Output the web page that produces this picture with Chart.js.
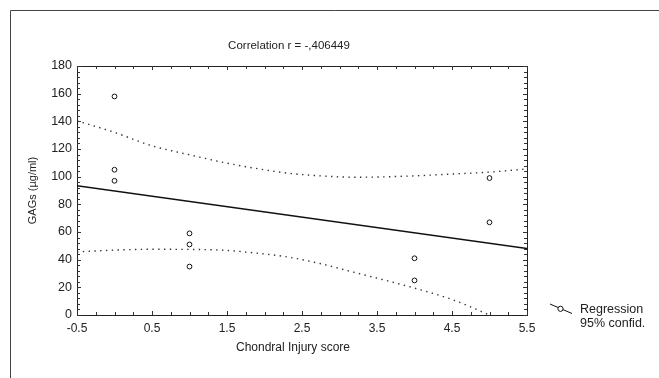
<!DOCTYPE html>
<html><head><meta charset="utf-8">
<script src="https://cdn.jsdelivr.net/npm/chart.js@4.4.0/dist/chart.umd.min.js"></script>
<style>html,body{margin:0;padding:0;background:#fff}</style>
</head><body>
<canvas id="c" width="659" height="378"></canvas>
<script>
// ---- data ----
const titleText = 'Correlation r = -,406449';
const xTitle = 'Chondral Injury score';
const yTitle = 'GAGs (µg/ml)';
const legendLabels = ['Regression', '95% confid.'];

const xTicks = [-0.5, 0.5, 1.5, 2.5, 3.5, 4.5, 5.5];
const yTicks = [0, 20, 40, 60, 80, 100, 120, 140, 160, 180];

const obsX = [0, 0, 0, 1, 1, 1, 4, 4, 5, 5];
const obsY = [158, 105, 97, 59, 51, 35, 41, 25, 99, 67];

const regX = [-0.5, 5.5];
const regY = [93.4, 48];

const upperX = [-0.5, 0, 0.5, 1.0, 1.46, 1.86, 2.3, 2.74, 3.19, 3.54, 4.0, 4.5, 5.0, 5.5];
const upperY = [140.4, 132, 122.3, 115.8, 110.2, 106.2, 102.6, 100.6, 99.6, 99.8, 100.6, 101.9, 103.3, 105.6];

const lowerX = [-0.5, 0, 0.5, 1.0, 1.46, 1.86, 2.3, 2.74, 3.19, 3.54, 3.99, 4.5, 5.0];
const lowerY = [45.6, 46.9, 47.5, 47.4, 46.8, 44.9, 42, 37.2, 30.9, 26.1, 19.6, 11.2, 0];

const zip = (xs, ys) => xs.map((x, i) => ({ x: x, y: ys[i] }));

const FONT = '"Liberation Sans", Arial, sans-serif';
const INK = '#222';

const decor = {
  id: 'decor',
  beforeDatasetsDraw(chart) {
    const { ctx, chartArea: a, scales } = chart;
    const xs = scales.x, ys = scales.y;
    ctx.save();
    // outer frame (top + left)
    ctx.strokeStyle = '#444';
    ctx.lineWidth = 1;
    ctx.beginPath();
    ctx.moveTo(10.5, 378);
    ctx.lineTo(10.5, 10.5);
    ctx.lineTo(659, 10.5);
    ctx.stroke();
    // top and right plot borders
    ctx.strokeStyle = '#222';
    ctx.beginPath();
    ctx.moveTo(a.left, a.top + 0.5);
    ctx.lineTo(a.right + 0.5, a.top + 0.5);
    ctx.lineTo(a.right + 0.5, a.bottom);
    ctx.stroke();
    // inner ticks
    ctx.strokeStyle = '#333';
    ctx.beginPath();
    for (let v = xs.min; v <= xs.max + 1e-9; v += 0.25) {
      const px = Math.round(xs.getPixelForValue(v)) + 0.5;
      const major = xTicks.some(t => Math.abs(t - v) < 1e-6);
      const L = major ? 4 : 3;
      ctx.moveTo(px, a.bottom); ctx.lineTo(px, a.bottom - L);
      ctx.moveTo(px, a.top); ctx.lineTo(px, a.top + L);
    }
    for (let v = ys.min; v <= ys.max + 1e-9; v += 4) {
      const py = Math.round(ys.getPixelForValue(v)) + 0.5;
      const major = yTicks.some(t => Math.abs(t - v) < 1e-6);
      const L = major ? 4 : 3;
      ctx.moveTo(a.left, py); ctx.lineTo(a.left + L, py);
      ctx.moveTo(a.right, py); ctx.lineTo(a.right - L, py);
    }
    ctx.stroke();
    ctx.restore();
  },
  afterDraw(chart) {
    const { ctx, chartArea: a } = chart;
    ctx.save();
    ctx.fillStyle = INK;
    ctx.textBaseline = 'middle';
    // title
    ctx.font = '11.5px ' + FONT;
    ctx.textAlign = 'center';
    ctx.fillText(titleText, 289, 46);
    // x title
    ctx.font = '12px ' + FONT;
    ctx.fillText(xTitle, 293, 348);
    // y title
    ctx.save();
    ctx.translate(33, (a.top + a.bottom) / 2);
    ctx.rotate(-Math.PI / 2);
    ctx.font = '11px ' + FONT;
    ctx.fillText(yTitle, 0, 0);
    ctx.restore();
    // legend
    ctx.strokeStyle = '#111';
    ctx.lineWidth = 1;
    ctx.beginPath();
    ctx.moveTo(550, 304);
    ctx.lineTo(572, 313.5);
    ctx.stroke();
    ctx.beginPath();
    ctx.arc(560.5, 308.8, 2.6, 0, Math.PI * 2);
    ctx.fillStyle = '#fff';
    ctx.fill();
    ctx.stroke();
    ctx.fillStyle = INK;
    ctx.textAlign = 'left';
    ctx.font = '12.5px ' + FONT;
    ctx.fillText(legendLabels[0], 580, 310);
    ctx.fillText(legendLabels[1], 580, 323.5);
    ctx.restore();
  }
};

new Chart(document.getElementById('c'), {
  type: 'scatter',
  data: {
    datasets: [
      {
        label: 'Observed',
        data: zip(obsX, obsY),
        showLine: false,
        pointStyle: 'circle',
        pointRadius: 2.4,
        pointBorderWidth: 1,
        borderColor: '#111',
        backgroundColor: 'rgba(255,255,255,0)'
      },
      {
        label: 'Regression',
        data: zip(regX, regY),
        showLine: true,
        borderColor: '#111',
        borderWidth: 1.5,
        pointRadius: 0
      },
      {
        label: '95% upper',
        data: zip(upperX, upperY),
        showLine: true,
        borderColor: '#333',
        borderWidth: 1.4,
        borderDash: [1.4, 4.4],
        cubicInterpolationMode: 'monotone',
        pointRadius: 0
      },
      {
        label: '95% lower',
        data: zip(lowerX, lowerY),
        showLine: true,
        borderColor: '#333',
        borderWidth: 1.4,
        borderDash: [1.4, 4.4],
        cubicInterpolationMode: 'monotone',
        pointRadius: 0
      }
    ]
  },
  options: {
    responsive: false,
    animation: false,
    devicePixelRatio: 1,
    layout: { padding: { left: 0, top: 66, right: 132, bottom: 0 } },
    plugins: { legend: { display: false }, title: { display: false }, tooltip: { enabled: false } },
    scales: {
      x: {
        type: 'linear',
        min: -0.5, max: 5.5,
        afterFit: s => { s.height = 63; },
        afterBuildTicks: s => { s.ticks = xTicks.map(v => ({ value: v })); },
        grid: { display: false, drawTicks: false },
        border: { display: true, color: '#222', width: 1 },
        ticks: {
          autoSkip: false, maxRotation: 0, padding: 6,
          color: INK, font: { family: FONT, size: 12 },
          callback: v => String(v)
        }
      },
      y: {
        type: 'linear',
        min: 0, max: 180,
        afterFit: s => { s.width = 77; },
        afterBuildTicks: s => { s.ticks = yTicks.map(v => ({ value: v })); },
        grid: { display: false, drawTicks: false },
        border: { display: true, color: '#222', width: 1 },
        ticks: {
          autoSkip: false, padding: 5,
          color: INK, font: { family: FONT, size: 12.5 },
          callback: v => String(v)
        }
      }
    }
  },
  plugins: [decor]
});
</script>
</body></html>
